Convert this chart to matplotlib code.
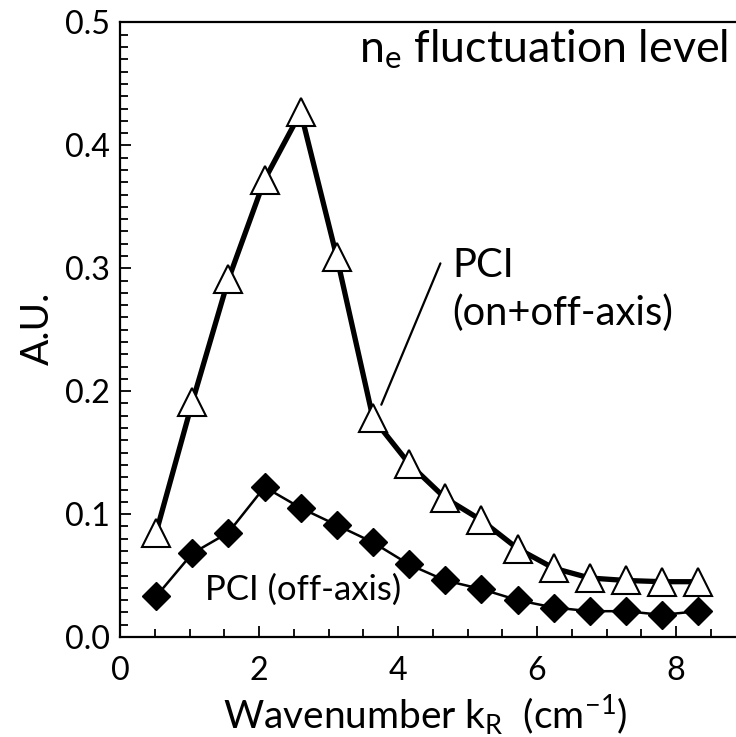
import matplotlib
matplotlib.use("Agg")
import matplotlib.pyplot as plt
from matplotlib.ticker import MultipleLocator

plt.rcParams['font.family'] = ['Lato', 'DejaVu Sans']
plt.rcParams['mathtext.default'] = 'regular'

# data
k_R = [0.52, 1.04, 1.56, 2.08, 2.60, 3.12, 3.64, 4.16,
       4.68, 5.20, 5.72, 6.24, 6.76, 7.28, 7.80, 8.32]
pci_on_off = [0.085, 0.191, 0.291, 0.372, 0.427, 0.309, 0.178, 0.141,
              0.113, 0.095, 0.072, 0.056, 0.048, 0.046, 0.045, 0.045]
pci_off = [0.033, 0.068, 0.085, 0.122, 0.105, 0.091, 0.077, 0.059,
           0.046, 0.039, 0.030, 0.024, 0.021, 0.021, 0.018, 0.021]
x_ticks = [0, 2, 4, 6, 8]
y_ticks = [0.0, 0.1, 0.2, 0.3, 0.4, 0.5]

W, H = 736, 737
fig = plt.figure(figsize=(W / 100, H / 100), dpi=100)
ax = fig.add_axes([120 / W, 100 / H, 616 / W, (637 - 22.5) / H])

ax.plot(k_R, pci_off, color='black', lw=1.8, marker='D', ms=14.5,
        mfc='black', mec='black', zorder=3)
ax.plot(k_R, pci_on_off, color='black', lw=3.8, marker='^', ms=19.5,
        mfc='white', mec='black', mew=1.5, zorder=4)

ax.set_xlim(0, 616 / 69.5)
ax.set_ylim(0, 0.5)
ax.set_xticks(x_ticks)
ax.set_yticks(y_ticks)
ax.set_yticklabels([f"{v:.1f}" for v in y_ticks])
ax.xaxis.set_minor_locator(MultipleLocator(0.5))
ax.yaxis.set_minor_locator(MultipleLocator(0.01))

for s in ['left', 'bottom', 'top']:
    ax.spines[s].set_linewidth(1.6)
ax.spines['right'].set_visible(False)

ax.tick_params(which='both', direction='in', top=False, right=False, width=1.3)
ax.tick_params(which='major', length=8)
ax.tick_params(which='minor', length=5.5)
ax.tick_params(axis='x', which='major', pad=14, labelsize=23)
ax.tick_params(axis='y', which='major', pad=7, labelsize=23)

ax.set_xlabel('Wavenumber k$_{R}$  (cm$^{-1}$)', fontsize=24)
ax.xaxis.label.set_verticalalignment('baseline')
ax.xaxis.set_label_coords(425.5 / W, (H - 729) / H, transform=fig.transFigure)
ax.set_ylabel('A.U.', fontsize=24)
ax.yaxis.label.set_verticalalignment('center')
ax.yaxis.set_label_coords(38 / W, (H - 328) / H, transform=fig.transFigure)

title = fig.text(728 / W, (H - 62) / H, 'n$_{e}$ fluctuation level',
                 fontsize=27, ha='right', va='baseline')

ax.annotate('', xy=(3.76, 0.189), xytext=(4.61, 0.304),
            arrowprops=dict(arrowstyle='-', lw=1.6, color='black',
                            shrinkA=0, shrinkB=0))
t_pci = ax.text(4.78, 0.293, 'PCI', fontsize=26, ha='left', va='baseline')
t_onoff = ax.text(4.78, 0.254, '(on+off-axis)', fontsize=26, ha='left',
                  va='baseline')
t_off = ax.text(1.22, 0.030, 'PCI (off-axis)', fontsize=26, ha='left',
                va='baseline')

# fit text sizes to the widths measured on the reference
fig.canvas.draw()
r = fig.canvas.get_renderer()


def width(t):
    return t.get_window_extent(r).width


def fit(t, target):
    t.set_fontsize(t.get_fontsize() * target / width(t))


fit(title, 370)
fit(ax.xaxis.label, 405)
ax.yaxis.label.set_fontsize(ax.xaxis.label.get_fontsize())
fit(t_onoff, 221)
t_pci.set_fontsize(t_onoff.get_fontsize())
fit(t_off, 196)
lab = [t for t in ax.get_yticklabels() if t.get_text() == '0.4'][0]
f = 45 / width(lab)
ax.tick_params(axis='both', which='major', labelsize=23 * f)

fig.savefig('out.png', dpi=100)
